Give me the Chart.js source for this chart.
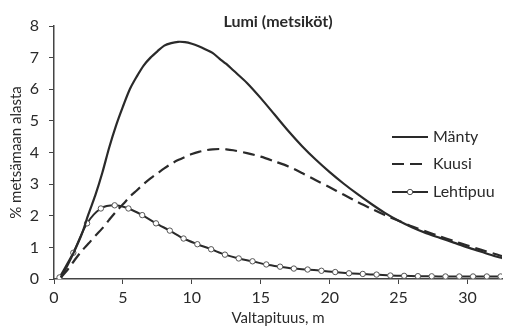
<!DOCTYPE html>
<html>
<head>
<meta charset="utf-8">
<script src="https://cdn.jsdelivr.net/npm/chart.js@4/dist/chart.umd.min.js"></script>
<style>
    html, body { margin: 0; padding: 0; background: #ffffff; }
    #wrap { width: 507px; height: 329px; }
</style>
</head>
<body>
<div id="wrap"><canvas id="lumiChart"></canvas></div>
<script>
// Valtapituus (m) ja osuudet (% metsämaan alasta)
const heights = [0.5, 1, 1.5, 2, 2.5, 3, 3.5, 4, 4.5, 5, 5.5, 6, 6.5, 7, 7.5, 8, 8.5, 9, 9.5, 10, 10.5, 11, 11.5, 12, 12.5, 13, 14, 15, 16, 17, 18, 19, 20, 21, 22, 23, 24, 25, 26, 27, 28, 29, 30, 31, 32, 32.5];
const manty = [0.05, 0.45, 0.9, 1.4, 2.05, 2.65, 3.35, 4.15, 4.85, 5.45, 6.0, 6.4, 6.75, 7.0, 7.2, 7.38, 7.46, 7.5, 7.49, 7.44, 7.36, 7.26, 7.15, 6.97, 6.8, 6.6, 6.2, 5.72, 5.2, 4.68, 4.2, 3.77, 3.38, 3.02, 2.69, 2.38, 2.09, 1.84, 1.63, 1.45, 1.3, 1.15, 1.0, 0.86, 0.72, 0.66];
const kuusi = [0.05, 0.3, 0.6, 0.88, 1.12, 1.37, 1.6, 1.87, 2.13, 2.36, 2.6, 2.8, 3.0, 3.18, 3.34, 3.5, 3.64, 3.76, 3.86, 3.95, 4.02, 4.07, 4.1, 4.11, 4.1, 4.07, 3.98, 3.87, 3.72, 3.56, 3.35, 3.12, 2.9, 2.67, 2.44, 2.23, 2.02, 1.84, 1.66, 1.5, 1.35, 1.2, 1.06, 0.92, 0.79, 0.72];
const lehtiHeights = [0.4, 1.4, 2.4, 3.4, 4.4, 5.4, 6.4, 7.4, 8.4, 9.4, 10.4, 11.4, 12.4, 13.4, 14.4, 15.4, 16.4, 17.4, 18.4, 19.4, 20.4, 21.4, 22.4, 23.4, 24.4, 25.4, 26.4, 27.4, 28.4, 29.4, 30.4, 31.4, 32.4];
const lehtipuu = [0.05, 0.83, 1.76, 2.23, 2.33, 2.23, 2.02, 1.76, 1.53, 1.28, 1.1, 0.94, 0.77, 0.65, 0.56, 0.46, 0.39, 0.33, 0.3, 0.26, 0.22, 0.18, 0.16, 0.14, 0.11, 0.1, 0.09, 0.085, 0.08, 0.08, 0.08, 0.08, 0.08];

const xTicks = [0, 5, 10, 15, 20, 25, 30];
const yTicks = [0, 1, 2, 3, 4, 5, 6, 7, 8];
const seriesNames = ['Mänty', 'Kuusi', 'Lehtipuu'];
const chartTitle = 'Lumi (metsiköt)';

const ink = '#2a2a2a';
const fontFamily = 'Lato, "Open Sans", sans-serif';

const toPoints = (xs, ys) => xs.map((x, i) => ({ x: x, y: ys[i] }));

// otsikko ja selite piirretään itse kuva-alueen sisälle
const annotations = {
    id: 'annotations',
    afterDraw: (chart) => {
        const { ctx, chartArea } = chart;
        ctx.save();
        ctx.fillStyle = ink;
        ctx.font = 'bold 16px ' + fontFamily;
        ctx.textAlign = 'center';
        ctx.textBaseline = 'middle';
        ctx.fillText(chartTitle, (chartArea.left + chartArea.right) / 2, 22);

        const rows = [137, 164, 192];
        ctx.font = '16px ' + fontFamily;
        ctx.textAlign = 'left';
        chart.data.datasets.forEach((ds, i) => {
            const y = rows[i];
            ctx.beginPath();
            ctx.setLineDash(ds.borderDash || []);
            ctx.lineWidth = ds.borderWidth;
            ctx.strokeStyle = ds.borderColor;
            ctx.moveTo(392, y);
            ctx.lineTo(428, y);
            ctx.stroke();
            ctx.setLineDash([]);
            if (ds.pointRadius > 0) {
                ctx.beginPath();
                ctx.arc(410, y, ds.pointRadius, 0, Math.PI * 2);
                ctx.fillStyle = ds.pointBackgroundColor;
                ctx.fill();
                ctx.lineWidth = ds.pointBorderWidth;
                ctx.strokeStyle = ds.pointBorderColor;
                ctx.stroke();
            }
            ctx.fillStyle = ink;
            ctx.fillText(ds.label, 433, y);
        });
        ctx.restore();
    }
};

new Chart(document.getElementById('lumiChart').getContext('2d'), {
    type: 'line',
    plugins: [annotations],
    data: {
        datasets: [
            {
                label: seriesNames[0],
                data: toPoints(heights, manty),
                borderColor: ink,
                borderWidth: 2.2,
                tension: 0.3,
                pointRadius: 0
            },
            {
                label: seriesNames[1],
                data: toPoints(heights, kuusi),
                borderColor: ink,
                borderWidth: 2.2,
                borderDash: [12, 6],
                tension: 0.3,
                pointRadius: 0
            },
            {
                label: seriesNames[2],
                data: toPoints(lehtiHeights, lehtipuu),
                borderColor: ink,
                borderWidth: 2,
                tension: 0.3,
                pointRadius: 2.7,
                pointBackgroundColor: '#ffffff',
                pointBorderColor: '#555555',
                pointBorderWidth: 1
            }
        ]
    },
    options: {
        responsive: true,
        maintainAspectRatio: false,
        animation: false,
        layout: { padding: { top: 26, right: 4, left: 0, bottom: 0 } },
        plugins: {
            legend: { display: false },
            title: { display: false },
            tooltip: { enabled: false }
        },
        scales: {
            x: {
                type: 'linear',
                min: 0,
                max: 32.5,
                afterBuildTicks: (scale) => { scale.ticks = xTicks.map(v => ({ value: v })); },
                afterFit: (scale) => { scale.height = 50; },
                border: { color: '#444444', width: 1.5 },
                grid: { drawOnChartArea: false, drawTicks: true, tickLength: 5, color: '#444444' },
                ticks: { color: ink, padding: 4, maxRotation: 0, font: { family: fontFamily, size: 16 } },
                title: {
                    display: true,
                    text: 'Valtapituus, m',
                    color: ink,
                    padding: { top: 0, bottom: 2 },
                    font: { family: fontFamily, size: 15 }
                }
            },
            y: {
                min: 0,
                max: 8,
                afterBuildTicks: (scale) => { scale.ticks = yTicks.map(v => ({ value: v })); },
                afterFit: (scale) => { scale.width = 54; },
                border: { color: '#444444', width: 1.5 },
                grid: { drawOnChartArea: false, drawTicks: true, tickLength: 5, color: '#444444' },
                ticks: { color: ink, padding: 10, font: { family: fontFamily, size: 16 } },
                title: {
                    display: true,
                    text: '% metsämaan alasta',
                    color: ink,
                    padding: { top: 7, bottom: 0 },
                    font: { family: fontFamily, size: 15 }
                }
            }
        }
    }
});
</script>
</body>
</html>
